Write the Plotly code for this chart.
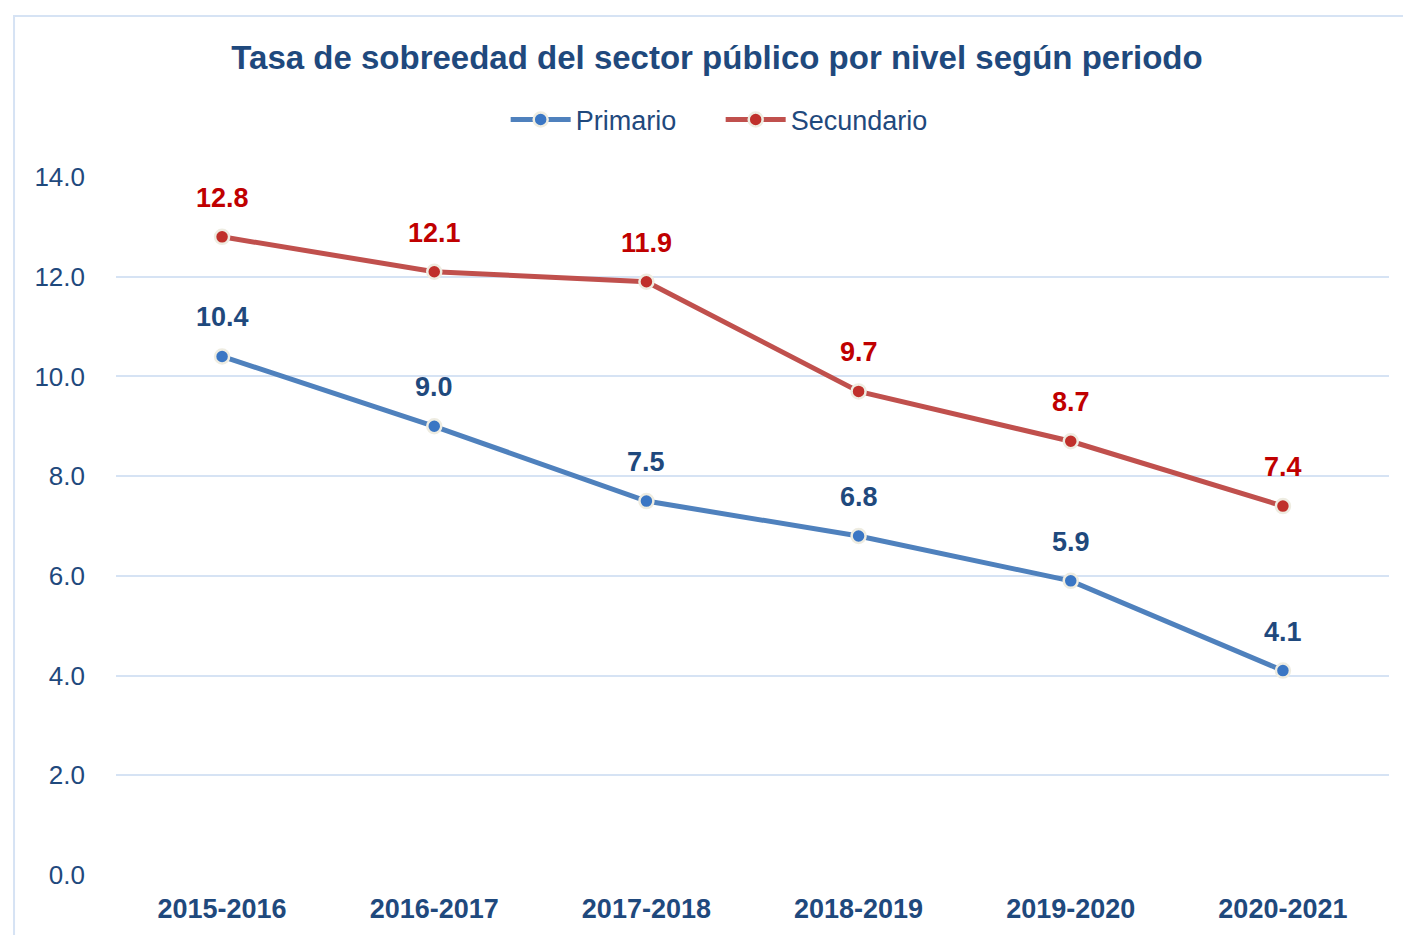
import plotly.graph_objects as go

categories = ["2015-2016", "2016-2017", "2017-2018", "2018-2019", "2019-2020", "2020-2021"]
primario = [10.4, 9.0, 7.5, 6.8, 5.9, 4.1]
secundario = [12.8, 12.1, 11.9, 9.7, 8.7, 7.4]
y_ticks = [0, 2, 4, 6, 8, 10, 12, 14]

FONT = "Liberation Sans, Arial, sans-serif"
DARK_BLUE = "#1F497D"
DARK_RED = "#C00000"

fig = go.Figure()
series = [
    ("Primario", primario, "#4F81BD", "#3A76C4", DARK_BLUE),
    ("Secundario", secundario, "#C0504D", "#C0302B", DARK_RED),
]
for name, vals, lcol, mcol, tcol in series:
    fig.add_trace(go.Scatter(
        x=categories, y=vals, name=name, mode="lines+markers",
        line=dict(color=lcol, width=5),
        marker=dict(size=14, color=mcol, line=dict(color="#EEECE1", width=2.5)),
    ))
    for c, v in zip(categories, vals):
        fig.add_annotation(x=c, y=v, text=f"<b>{v:.1f}</b>", showarrow=False,
                           yshift=39, font=dict(family=FONT, size=27, color=tcol))

# light blue frame around chart area
fig.add_shape(type="rect", xref="paper", yref="paper",
              x0=-0.0801, x1=1.1, y0=-0.2, y1=1.2307,
              line=dict(color="#D6E3F4", width=2), fillcolor="rgba(0,0,0,0)", layer="below")

# page body has an 8px default margin, so the figure is sized to fit the window
W, H = 1411 - 8, 935 - 8
fig.update_layout(
    width=W, height=H,
    paper_bgcolor="white", plot_bgcolor="white",
    margin=dict(l=108, r=22, t=169, b=60),
    title=dict(text="<b>Tasa de sobreedad del sector público por nivel según periodo</b>",
               x=(717 - 8) / W, xanchor="center", y=1 - (57 - 8) / H, yanchor="middle",
               font=dict(family=FONT, size=33, color=DARK_BLUE)),
    legend=dict(orientation="h", x=0.475, xanchor="center", y=1.0817, yanchor="middle",
                itemwidth=60, entrywidth=140,
                font=dict(family=FONT, size=27, color=DARK_BLUE), bgcolor="rgba(0,0,0,0)"),
    showlegend=True,
)
fig.update_xaxes(type="category", range=[-0.5, 5.5], showgrid=False, showline=False,
                 ticks="", ticklabelstandoff=15,
                 tickfont=dict(family=FONT, size=27, color=DARK_BLUE),
                 tickvals=categories, ticktext=[f"<b>{c}</b>" for c in categories])
fig.update_yaxes(range=[0, 14], tickvals=y_ticks, tickformat=".1f",
                 showgrid=True, gridcolor="#D6E3F4", gridwidth=2, zeroline=False,
                 showline=False, ticks="", ticklabelstandoff=30,
                 tickfont=dict(family=FONT, size=26, color=DARK_BLUE))

fig.write_html("out.html")
